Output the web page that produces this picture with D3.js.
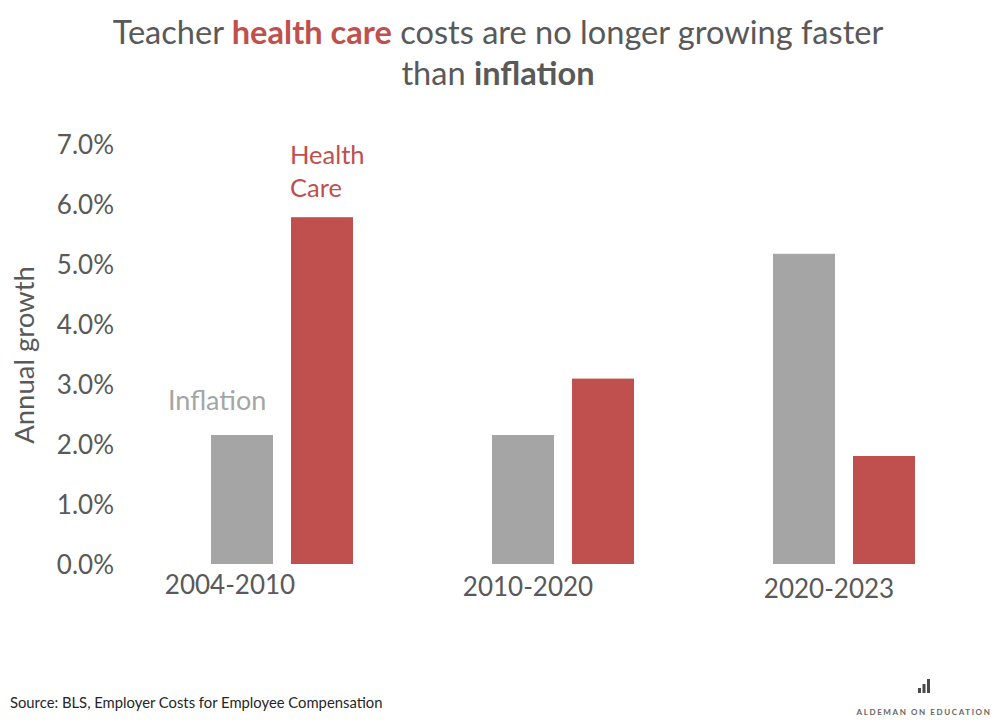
<!DOCTYPE html>
<html><head><meta charset="utf-8">
<script src="https://cdn.jsdelivr.net/npm/d3@7"></script>
<style>
html,body{margin:0;padding:0;background:#fff;}
text{font-family:Lato,"Open Sans",sans-serif;}
</style></head>
<body><svg id="c" width="1000" height="723"></svg>
<script>
const categories = ["2004-2010", "2010-2020", "2020-2023"];
const series = ["Inflation", "Health Care"];
const inflation = [2.15, 2.15, 5.17];
const healthCare = [5.78, 3.09, 1.80];
const yTicks = [0, 1, 2, 3, 4, 5, 6, 7];

const colors = {"Inflation": "#a5a5a5", "Health Care": "#c0504d"};
const svg = d3.select("#c");
const W = 1000, H = 723;
svg.append("rect").attr("width", W).attr("height", H).attr("fill", "#fff");

const y = d3.scaleLinear().domain([0, 7]).range([564, 144]);
const x0 = d3.scaleBand().domain(categories).range([141.5, 984.5]).padding(0);
const x1 = d3.scaleBand().domain(series)
  .range([x0.bandwidth()/2 - 71, x0.bandwidth()/2 + 71]).paddingInner(0.225);

const rows = categories.map((c, i) => ({cat: c, vals: [
  {s: "Inflation", v: inflation[i]}, {s: "Health Care", v: healthCare[i]}]}));

// Title
const title = svg.append("text").attr("x", 498).attr("y", 44)
  .attr("text-anchor", "middle").attr("font-size", 32.6).attr("fill", "#595959");
title.append("tspan").text("Teacher ");
title.append("tspan").attr("fill", "#c0504d").attr("font-weight", "bold").text("health care");
title.append("tspan").text(" costs are no longer growing faster");
const title2 = svg.append("text").attr("x", 498).attr("y", 85)
  .attr("text-anchor", "middle").attr("font-size", 32.6).attr("fill", "#595959");
title2.append("tspan").text("than ");
title2.append("tspan").attr("font-weight", "bold").text("inflation");

// Y axis (labels only)
const yAxis = d3.axisLeft(y).tickValues(yTicks).tickFormat(d => d3.format(".1f")(d) + "%").tickSize(0).tickPadding(0);
const gy = svg.append("g").attr("transform", "translate(114,0)").call(yAxis);
gy.select(".domain").remove();
gy.selectAll("text").attr("font-size", 26).attr("fill", "#595959")
  .attr("font-family", "Lato").attr("dy", "0.35em");

// Y title
svg.append("text").attr("transform", "translate(34,355) rotate(-90)")
  .attr("text-anchor", "middle").attr("font-size", 27.5).attr("fill", "#595959")
  .text("Annual growth");

// Bars
const g = svg.append("g").selectAll("g").data(rows).join("g")
  .attr("transform", d => `translate(${x0(d.cat)},0)`);
g.selectAll("rect").data(d => d.vals).join("rect")
  .attr("x", d => x1(d.s)).attr("width", x1.bandwidth())
  .attr("y", d => y(d.v)).attr("height", d => y(0) - y(d.v))
  .attr("fill", d => colors[d.s]);

// X axis labels
const labelShift = [-52, -35, -15];
const xAxis = d3.axisBottom(x0).tickSize(0).tickPadding(0);
const gx = svg.append("g").attr("transform", "translate(0,576)").call(xAxis);
gx.select(".domain").remove();
gx.selectAll(".tick text").attr("font-size", 26).attr("fill", "#595959")
  .attr("font-family", "Lato").attr("dy", "0.71em")
  .attr("transform", (d, i) => `translate(${labelShift[i]},${i === 2 ? 4 : (i === 1 ? 2 : 0)})`);

// Series labels
svg.append("text").attr("x", 168).attr("y", 410).attr("font-size", 27)
  .attr("fill", colors["Inflation"]).text(series[0]);
const hc = svg.append("text").attr("x", 290).attr("y", 164).attr("font-size", 25.5)
  .attr("fill", colors["Health Care"]);
hc.append("tspan").attr("x", 290).text("Health");
hc.append("tspan").attr("x", 290).attr("dy", 33).text("Care");

// Source
svg.append("text").attr("x", 10).attr("y", 708).attr("font-size", 14.8)
  .attr("fill", "#262626").text("Source: BLS, Employer Costs for Employee Compensation");

// Logo
const logoBars = [5, 9, 14];
svg.append("g").selectAll("rect").data(logoBars).join("rect")
  .attr("x", (d, i) => 918 + i * 4.5).attr("y", d => 693 - d)
  .attr("width", 3).attr("height", d => d).attr("fill", "#4a4a4a");
svg.append("text").attr("x", 924).attr("y", 715).attr("text-anchor", "middle")
  .attr("font-size", 8).attr("font-weight", "bold").attr("letter-spacing", 1.6)
  .attr("fill", "#666").text("ALDEMAN ON EDUCATION");
</script></body></html>
